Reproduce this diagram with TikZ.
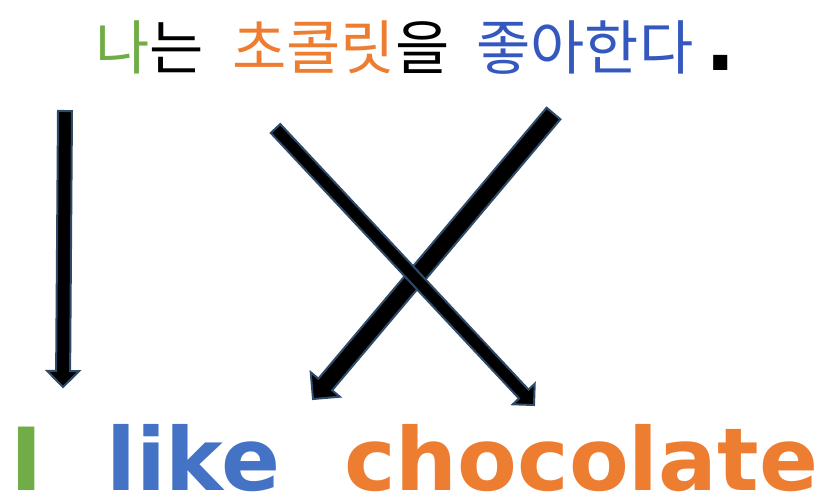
\documentclass[tikz,border=0pt]{standalone}
\usepackage{fontspec}
\setmainfont{DejaVu Sans}
\newfontfamily\krfont{Noto Sans CJK KR}
\usetikzlibrary{calc}
\definecolor{kgreen}{HTML}{70AD47}
\definecolor{korange}{HTML}{ED7D31}
\definecolor{kblue}{HTML}{3458BE}
\definecolor{eblue}{HTML}{4472C4}
\definecolor{edgec}{HTML}{2E4B6A}
% tail, tip, half shaft width, half head width, head length
\newcommand\myblockarrow[5]{%
  \coordinate (hb) at ($(#2)!#5!(#1)$);
  \draw[barrow] ($(#1)!#3!90:(#2)$) -- ($(hb)!#3!-90:(#1)$) -- ($(hb)!#4!-90:(#1)$)
    -- (#2) -- ($(hb)!#4!90:(#1)$) -- ($(hb)!#3!90:(#1)$) -- ($(#1)!#3!-90:(#2)$) -- cycle;}
\tikzset{
  barrow/.style={fill=black, draw=edgec, line width=2pt, line join=miter},
  kr/.style={font=\krfont\fontsize{59}{62}\selectfont, inner sep=0pt, anchor=base west},
  en/.style={font=\bfseries\fontsize{87}{90}\selectfont, inner sep=0pt, text depth=0pt, anchor=base west}
}
\begin{document}
\begin{tikzpicture}[x=1pt,y=-1pt]
\useasboundingbox (0,0) rectangle (825,496);
% top sentence
\node[kr] (k1) at (95,69) {\textcolor{kgreen}{나}는};
\node[kr] (k2) at (232,69) {\textcolor{korange}{초콜릿}을};
\node[kr] (k3) at (476,69) {\textcolor{kblue}{좋아한다}};
\node[font=\bfseries\fontsize{80}{84}\selectfont, inner sep=0pt, anchor=base west] (kp) at (705,70) {.};
% bottom sentence
\node[en, text=kgreen] (e1) at (10,490) {I};
\node[en, text=eblue] (e2) at (106,490) {like};
\node[en, text=korange] (e3) at (344,490) {chocolate};
% arrow end points
\coordinate (t1) at (65,111);
\coordinate (p1) at (63,387);
\coordinate (t2) at (553.5,113.5);
\coordinate (p2) at (313,399);
\coordinate (t3) at (275.5,128.5);
\coordinate (p3) at (534,405);
\myblockarrow{t1}{p1}{7pt}{16pt}{16pt}
\myblockarrow{t2}{p2}{9pt}{19pt}{19pt}
\myblockarrow{t3}{p3}{6.5pt}{15pt}{15pt}
\end{tikzpicture}
\end{document}
